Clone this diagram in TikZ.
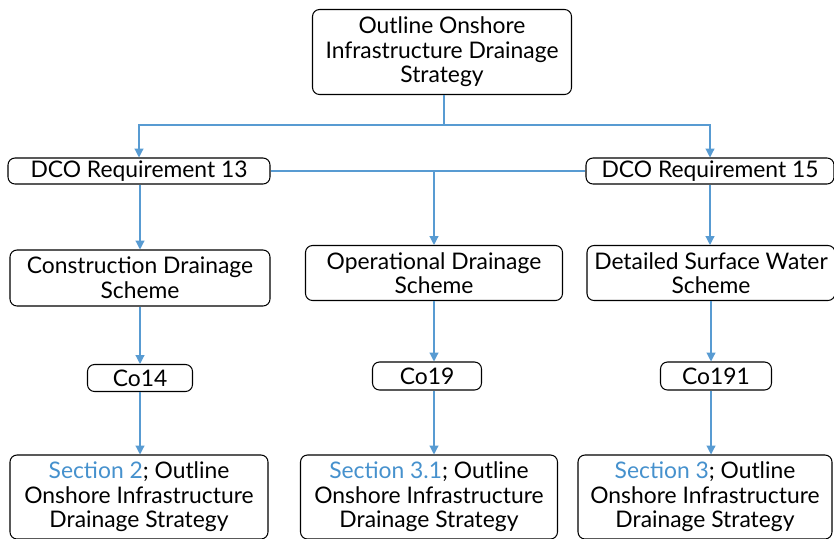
\documentclass[tikz,border=0pt]{standalone}
\usepackage{fontspec}
\setmainfont{Lato}
\usepackage{tikz}
\usetikzlibrary{positioning,arrows.meta}
\definecolor{linkblue}{RGB}{88,155,210}
\definecolor{secblue}{RGB}{70,145,205}
\newdimen\px
\px=0.02cm

\begin{document}
\begin{tikzpicture}[x=0.02cm,y=-0.02cm,
    every node/.style={font=\fontsize{13}{14}\selectfont},
    box/.style={draw,rounded corners=4pt,line width=0.6pt,align=center,inner sep=1pt},
    link/.style={draw=linkblue,line width=0.7pt,-{Triangle[length=5pt,width=5pt]}},
    plain/.style={draw=linkblue,line width=0.7pt}]
  \useasboundingbox (0,0) rectangle (834,538);
  % top of the tree
  \node[box,minimum width=259\px,minimum height=85\px] (top) at (442,52) {Outline Onshore\\Infrastructure Drainage\\Strategy};
  % requirements
  \node[box,minimum width=262\px,minimum height=26\px] (r13) at (139,171) {DCO Requirement 13};
  \node[box,minimum width=248\px,minimum height=26\px] (r15) at (710,171) {DCO Requirement 15};
  % schemes
  \node[box,minimum width=260\px,minimum height=56\px] (cons) at (140,278) {Construction Drainage\\Scheme};
  \node[box,minimum width=257\px,minimum height=55\px] (oper) at (434,273) {Operational Drainage\\Scheme};
  \node[box,minimum width=248\px,minimum height=55\px] (surf) at (711,273) {Detailed Surface Water\\Scheme};
  % conditions
  \node[box,minimum width=105\px,minimum height=27\px] (c14) at (140,378) {Co14};
  \node[box,minimum width=109\px,minimum height=28\px] (c19) at (427,376) {Co19};
  \node[box,minimum width=111\px,minimum height=28\px] (c191) at (716,376) {Co191};
  % sections
  \node[box,minimum width=258\px,minimum height=84\px] (s2) at (139,497) {\textcolor{secblue}{Section 2}; Outline\\Onshore Infrastructure\\Drainage Strategy};
  \node[box,minimum width=257\px,minimum height=84\px] (s31) at (429,497) {\textcolor{secblue}{Section 3.1}; Outline\\Onshore Infrastructure\\Drainage Strategy};
  \node[box,minimum width=254\px,minimum height=84\px] (s3) at (705,497) {\textcolor{secblue}{Section 3}; Outline\\Onshore Infrastructure\\Drainage Strategy};

  \coordinate (split) at (444,125);
  \draw[plain] (top.south -| split) -- (split);
  \draw[link] (split) -| (r13.north);
  \draw[link] (split) -| (r15.north);
  \draw[plain] (r13.east) -- (r15.west);
  \draw[link] (oper.north |- r13.east) -- (oper.north);
  \draw[link] (cons.north |- r13.south) -- (cons.north);
  \draw[link] (r15.south) -- (r15.south |- surf.north);
  \draw[link] (cons.south) -- (c14.north);
  \draw[link] (oper.south) -- (oper.south |- c19.north);
  \draw[link] (surf.south) -- (surf.south |- c191.north);
  \draw[link] (c14.south) -- (c14.south |- s2.north);
  \draw[link] (oper.south |- c19.south) -- (oper.south |- s31.north);
  \draw[link] (surf.south |- c191.south) -- (surf.south |- s3.north);
\end{tikzpicture}
\end{document}
